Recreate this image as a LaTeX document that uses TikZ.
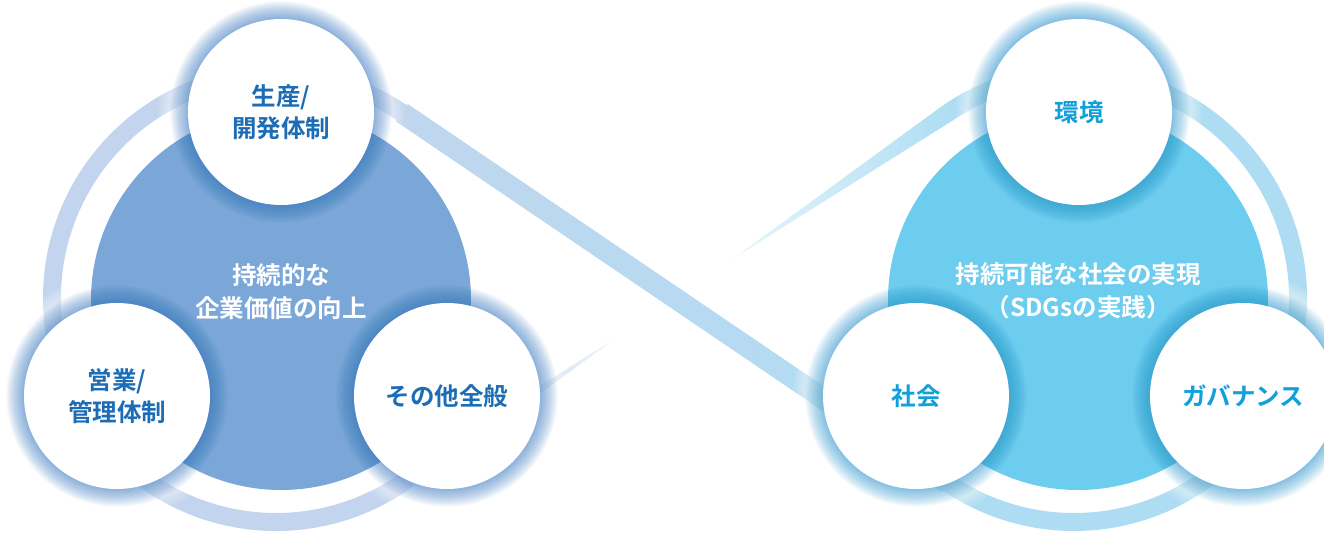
\documentclass[tikz,border=0pt]{standalone}
\usepackage{fontspec}
\newfontfamily\jp{Noto Sans CJK JP}[BoldFont={Noto Sans CJK JP Bold}]
\usetikzlibrary{calc}
\definecolor{bigL}{HTML}{7BA6D8}
\definecolor{bigR}{HTML}{6DCDEE}
\definecolor{ringL}{HTML}{C3D5EE}
\definecolor{ringR}{HTML}{AEDDF3}
\definecolor{bandM}{HTML}{BAD8EF}
\definecolor{txtL}{HTML}{1C6DB5}
\definecolor{txtR}{HTML}{12A0DB}
\definecolor{glowL}{HTML}{3478C6}
\definecolor{glowR}{HTML}{2496D6}
\begin{document}
\begin{tikzpicture}[x=1pt,y=-1pt,
  ringline/.style={line width=18pt},
  bigcirc/.style={circle, minimum size=380pt, inner sep=0pt},
  wcirc/.style={circle, fill=white, minimum size=186pt, inner sep=0pt, align=center,
    font=\jp\bfseries\fontsize{24.5pt}{32pt}\selectfont},
  ctext/.style={align=center, text=white, inner sep=0pt,
    font=\jp\bfseries\fontsize{24.5pt}{33pt}\selectfont}]
\useasboundingbox (0,0) rectangle (1324,538);
\clip (0,0) rectangle (1324,538);
% ring geometry
\coordinate (C1) at (276,298);
\coordinate (C2) at (1074,298);
\coordinate (T1) at ($(C1)+(-55.847:224)$);
\coordinate (T3) at ($(C1)+(55.847:224)$);
\coordinate (T2) at ($(C2)+(124.153:224)$);
\coordinate (T4) at ($(C2)+(-124.153:224)$);
\coordinate (W1) at ($(T3)!0.388!(T4)$);
\coordinate (W2) at ($(T3)!0.606!(T4)$);
% rings
\draw[ringline, ringL] (T1) arc[start angle=-55.847, end angle=-304.153, radius=224];
\draw[ringline, ringR] (T4) arc[start angle=-124.153, end angle=124.153, radius=224];
% main crossing band
\shade[left color=ringL!70!bandM, right color=ringR]
  ($(T1)!10.5pt!90:(T2)$) -- ($(T2)!10.5pt!-90:(T1)$) -- ($(T2)!10.5pt!90:(T1)$) -- ($(T1)!10.5pt!-90:(T2)$) -- cycle;
% tapered second crossing
\shade[left color=ringL!85!glowL, right color=ringL!30]
  ($(T3)!9pt!90:(T4)$) -- (W1) -- ($(T3)!9pt!-90:(T4)$) -- cycle;
\shade[left color=ringR!30, right color=ringR]
  (W2) -- ($(T4)!9pt!90:(T3)$) -- ($(T4)!9pt!-90:(T3)$) -- cycle;
% circle centres
\coordinate (cLt) at (281,112);
\coordinate (cLl) at (117,396);
\coordinate (cLr) at (447,396);
\coordinate (cRt) at (1079,112);
\coordinate (cRl) at (916,396);
\coordinate (cRr) at (1243,396);
% white halos
\foreach \p in {cLt,cLl,cLr,cRt,cRl,cRr}{
  \foreach \k in {2,4,...,30}{\fill[white,opacity=0.09] (\p) circle[radius=93+\k];}}
% big circles
\node[bigcirc, fill=bigL] (bigLc) at (281,300) {};
\node[bigcirc, fill=bigR] (bigRc) at (1078,300) {};
% blue glows
\foreach \p/\g in {cLt/glowL,cLl/glowL,cLr/glowL,cRt/glowR,cRl/glowR,cRr/glowR}{
  \foreach \k in {0.6,1.2,...,18}{\fill[\g,opacity=0.024] (\p) circle[radius=93+\k];}}
% white circles
\node[wcirc, text=txtL] (pL1) at (cLt) {生産/\\開発体制};
\node[wcirc, text=txtL] (pL2) at (cLl) {営業/\\管理体制};
\node[wcirc, text=txtL] (pL3) at (cLr) {その他全般};
\node[wcirc, text=txtR] (pR1) at (cRt) {環境};
\node[wcirc, text=txtR] (pR2) at (cRl) {社会};
\node[wcirc, text=txtR] (pR3) at (cRr) {ガバナンス};
% centre texts
\node[ctext] (cL) at (281,292) {持続的な\\企業価値の向上};
\node[ctext] (cR) at (1078,291) {持続可能な社会の実現\\（SDGsの実践）};
\end{tikzpicture}
\end{document}
